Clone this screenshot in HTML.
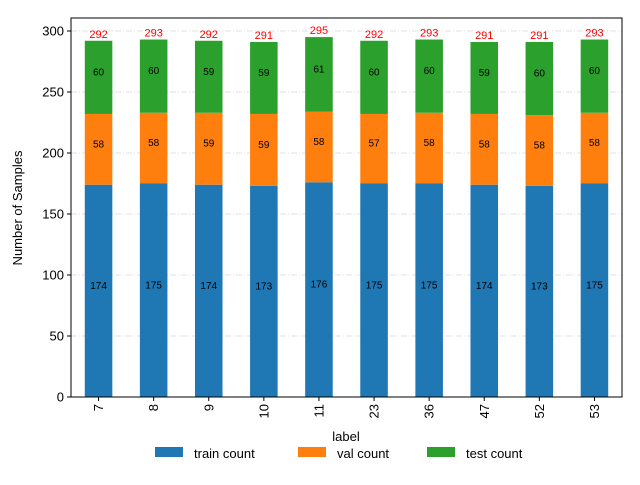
<!DOCTYPE html>
<html><head><meta charset="utf-8"><style>
body{margin:0;background:#fff}
svg{font-family:"Liberation Sans","DejaVu Sans",sans-serif}
</style></head><body>
<svg id="chart" width="640" height="480" viewBox="0 0 640 480">
<g id="grid"></g>
<g id="bars"></g>
<g id="labels"></g>
<rect x="71" y="18" width="551" height="379" fill="none" stroke="#000" stroke-width="1"/>
<g id="yaxis"></g>
<g id="xaxis"></g>
<text x="22" y="208" font-size="13" text-anchor="middle" transform="rotate(-90 22 208)">Number of Samples</text>
<text x="346" y="441" font-size="13" text-anchor="middle">label</text>
<g>
<rect x="155" y="447" width="28" height="10" fill="#1f77b4"/>
<text x="194" y="458" font-size="13">train count</text>
<rect x="298" y="447" width="28" height="10" fill="#ff7f0e"/>
<text x="337" y="458" font-size="13">val count</text>
<rect x="427" y="447" width="28" height="10" fill="#2ca02c"/>
<text x="466" y="458" font-size="13">test count</text>
</g>
</svg>
<script>
const categories=["7","8","9","10","11","23","36","47","52","53"];
const trainCounts=[174,175,174,173,176,175,175,174,173,175];
const valCounts=[58,58,59,59,58,57,58,58,58,58];
const testCounts=[60,60,59,59,61,60,60,59,60,60];
const yTicks=[0,50,100,150,200,250,300];
const NS="http://www.w3.org/2000/svg";
const x0=71,plotW=551,y0=397,scale=1.22;
const step=plotW/categories.length,barW=step*0.5;
const xC=i=>x0+step*(i+0.5);
const yS=v=>y0-v*scale;
function mk(tag,attrs,parent,txt){const e=document.createElementNS(NS,tag);for(const k in attrs)e.setAttribute(k,attrs[k]);if(txt!==undefined)e.textContent=txt;parent.appendChild(e);return e;}
const grid=document.getElementById('grid'),bars=document.getElementById('bars'),labels=document.getElementById('labels'),yaxis=document.getElementById('yaxis'),xaxis=document.getElementById('xaxis');
yTicks.forEach(t=>{const y=yS(t);
 const g=mk('line',{x1:x0,x2:x0+plotW,y1:y,y2:y,stroke:'#d8d8d8','stroke-width':0.8,'stroke-dasharray':'6,2,1,2'},grid);
 
 
 const tk=mk('line',{x1:x0-4,x2:x0,y1:y,y2:y,stroke:'#000'},yaxis);
 
 
 const tl=mk('text',{x:x0-7,y:y+4.5,'font-size':13,'text-anchor':'end'},yaxis,t);
 
 
});
const series=[[trainCounts,'#1f77b4','train'],[valCounts,'#ff7f0e','val'],[testCounts,'#2ca02c','test']];
categories.forEach((c,i)=>{
 let base=0;const cx=xC(i);
 series.forEach(([arr,col,nm])=>{const v=arr[i];
  const r=mk('rect',{x:cx-barW/2,y:yS(base+v),width:barW,height:v*scale,fill:col},bars);
  
  
  const t=mk('text',{x:cx,y:yS(base+v/2)-2,'font-size':10,'text-anchor':'middle'},labels,v);
  
  
  base+=v;});
 const tot=mk('text',{x:cx,y:yS(base)-3,'font-size':11,'text-anchor':'middle',fill:'#ff0000'},labels,base);
 
 
 const tk=mk('line',{x1:cx,x2:cx,y1:y0,y2:y0+4,stroke:'#000'},xaxis);
 
 
 const tl=mk('text',{x:cx+4.5,y:y0+7,'font-size':13,'text-anchor':'end',transform:`rotate(-90 ${cx+4.5} ${y0+7})`},xaxis,c);
 
 
});
</script>
</body></html>
